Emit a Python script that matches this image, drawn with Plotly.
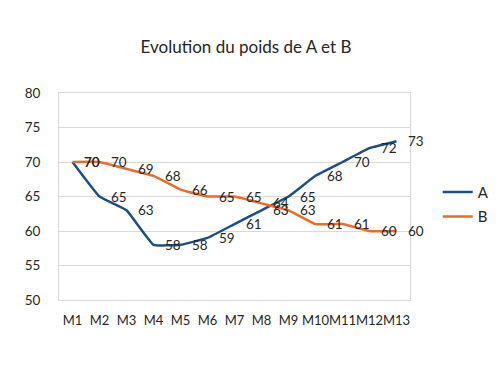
import plotly.graph_objects as go

months = ["M1", "M2", "M3", "M4", "M5", "M6", "M7", "M8", "M9", "M10", "M11", "M12", "M13"]
serie_a = [70, 65, 63, 58, 58, 59, 61, 63, 65, 68, 70, 72, 73]
serie_b = [70, 70, 69, 68, 66, 65, 65, 64, 63, 61, 61, 60, 60]
y_ticks = [50, 55, 60, 65, 70, 75, 80]

FONT = "Lato"
TXT = "#262626"
COL_A = "#1F4F82"
COL_B = "#EC6A2C"

fig = go.Figure()
fig.add_trace(go.Scatter(x=months, y=serie_a, name="A", mode="lines", legendgroup="a",
                         line=dict(color=COL_A, width=2.5, shape="spline", smoothing=0.3)))
fig.add_trace(go.Scatter(x=months, y=serie_b, name="B", mode="lines", legendgroup="b",
                         line=dict(color=COL_B, width=2.5, shape="spline", smoothing=0.3)))

annotations = []
for series in (serie_a, serie_b):
    for m, v in zip(months, series):
        annotations.append(dict(x=m, y=v, text=str(v), showarrow=False, xshift=19, yshift=0,
                                font=dict(family=FONT, size=13.5, color=TXT)))

# the page body adds an 8px offset, margins compensate for it
fig.update_layout(
    width=500, height=375,
    margin=dict(l=51, r=98, t=85, b=83),
    paper_bgcolor="white", plot_bgcolor="white",
    title=dict(text="Evolution du poids de A et B", x=238 / 500, xanchor="center",
               y=1 - 39 / 375, yanchor="middle", xref="container",
               font=dict(family=FONT, size=17, color=TXT)),
    font=dict(family=FONT, size=13, color=TXT),
    showlegend=True,
    legend=dict(x=1.079, xanchor="left", y=0.463, yanchor="middle", tracegroupgap=2,
                font=dict(family=FONT, size=15, color=TXT), bgcolor="rgba(0,0,0,0)"),
    annotations=annotations,
    xaxis=dict(type="category", range=[-0.5, 12.5], showgrid=False, showline=True, mirror=True,
               linecolor="#D9D9D9", linewidth=1, ticks="", ticklabelstandoff=8, tickangle=0,
               tickfont=dict(family=FONT, size=13, color=TXT), fixedrange=True),
    yaxis=dict(range=[50, 80], tickvals=y_ticks, showgrid=True, gridcolor="#D9D9D9", gridwidth=1,
               showline=True, mirror=True, linecolor="#D9D9D9", linewidth=1, zeroline=False,
               ticks="", ticklabelstandoff=15,
               tickfont=dict(family=FONT, size=13.5, color=TXT), fixedrange=True),
)

fig.write_html("out.html")
